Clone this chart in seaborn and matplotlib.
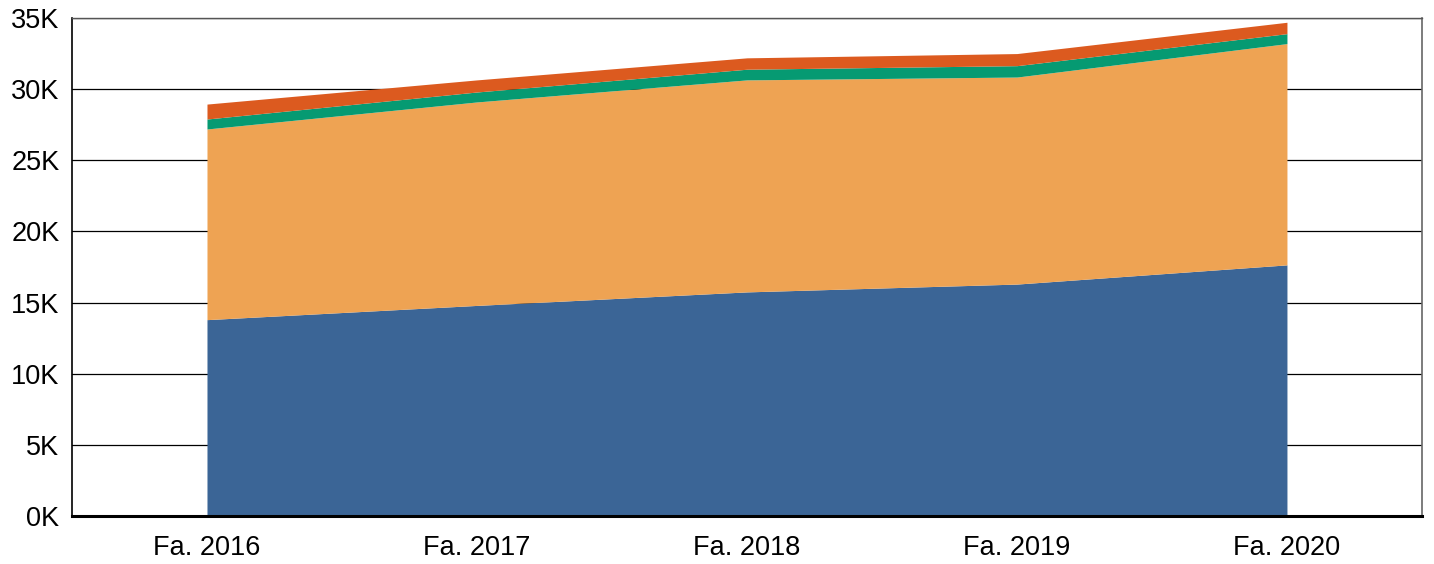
import matplotlib
matplotlib.use("Agg")
import matplotlib.pyplot as plt
import seaborn as sns
import numpy as np

# DATA (thousands)
years = ["Fa. 2016", "Fa. 2017", "Fa. 2018", "Fa. 2019", "Fa. 2020"]
series_blue = [13.8, 14.8, 15.75, 16.3, 17.65]
series_orange = [13.4, 14.3, 14.9, 14.55, 15.55]
series_green = [0.7, 0.7, 0.75, 0.8, 0.7]
series_red = [1.05, 0.85, 0.8, 0.85, 0.8]
colors = ["#3b6596", "#eea353", "#069a72", "#dc5a1f"]

sns.set_style("white")
plt.rcParams["font.family"] = ["Liberation Sans", "DejaVu Sans"]

fig = plt.figure(figsize=(14.34, 5.64), dpi=100)
ax = fig.add_axes([0.0502, 0.0851, 0.9414, 0.8830])

x = np.arange(len(years))
ax.stackplot(x, series_blue, series_orange, series_green, series_red,
             colors=colors, linewidth=0, zorder=2)

ax.set_xlim(-0.5, len(years) - 0.5)
ax.set_ylim(0, 35)
ax.set_yticks(np.arange(0, 36, 5))
ax.set_yticklabels([f"{v}K" for v in range(0, 36, 5)])
ax.set_xticks(x)
ax.set_xticklabels(years)
ax.yaxis.grid(True, color="black", linewidth=0.9, zorder=0)
ax.set_axisbelow(True)
ax.tick_params(axis="both", labelsize=19.5, length=0, pad=9,
               labelcolor="black")
ax.tick_params(axis="x", pad=14)

ax.spines["left"].set_color("black")
ax.spines["left"].set_linewidth(1.2)
ax.spines["bottom"].set_color("black")
ax.spines["bottom"].set_linewidth(2.2)
ax.spines["bottom"].set_zorder(5)
ax.spines["top"].set_color("#555555")
ax.spines["top"].set_linewidth(1.0)
ax.spines["right"].set_color("#666666")
ax.spines["right"].set_linewidth(1.2)

fig.savefig("out.png", dpi=100)
